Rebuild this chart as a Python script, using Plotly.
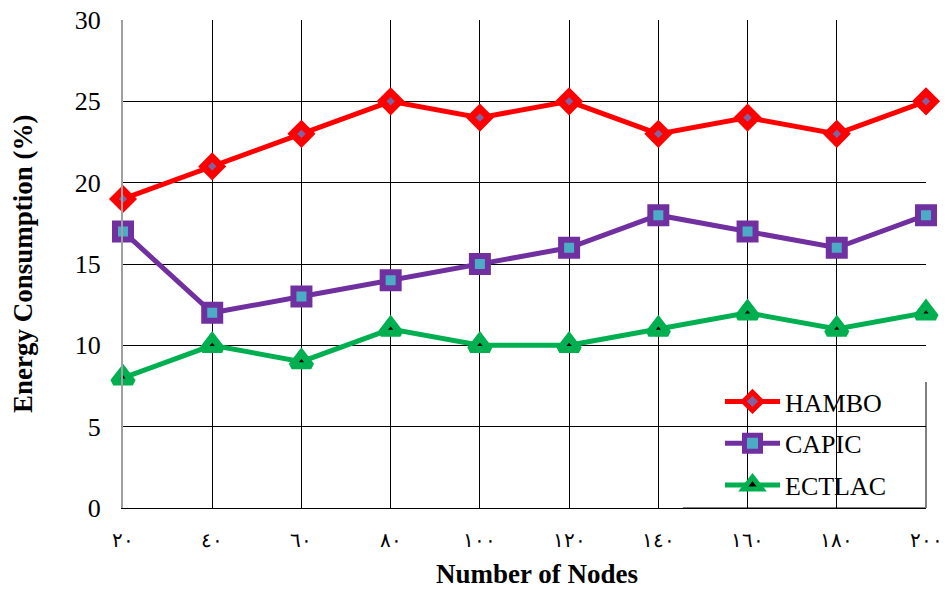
import plotly.graph_objects as go

nodes = [20, 40, 60, 80, 100, 120, 140, 160, 180, 200]
tick_labels = ["٢٠", "٤٠", "٦٠", "٨٠", "١٠٠", "١٢٠", "١٤٠", "١٦٠", "١٨٠", "٢٠٠"]
hambo = [19, 21, 23, 25, 24, 25, 23, 24, 23, 25]
capic = [17, 12, 13, 14, 15, 16, 18, 17, 16, 18]
ectlac = [8, 10, 9, 11, 10, 10, 11, 12, 11, 12]

W, H = 947, 590
L, R, T, B = 123, 21, 20, 82
PW, PH = W - L - R, H - T - B

fig = go.Figure()
fig.add_trace(go.Scatter(
    x=nodes, y=hambo, name="HAMBO", mode="lines+markers", legendgroup="a",
    line=dict(color="#FF0000", width=5),
    marker=dict(symbol="diamond", size=14, color="#8064A2",
                line=dict(color="#FF0000", width=7)),
    cliponaxis=False))
fig.add_trace(go.Scatter(
    x=nodes, y=capic, name="CAPIC", mode="lines+markers", legendgroup="b",
    line=dict(color="#7030A0", width=5),
    marker=dict(symbol="square", size=16, color="#4BACC6",
                line=dict(color="#7030A0", width=6)),
    cliponaxis=False))
fig.add_trace(go.Scatter(
    x=nodes, y=ectlac, name="ECTLAC", mode="lines+markers", legendgroup="c",
    line=dict(color="#00B050", width=5),
    marker=dict(symbol="triangle-up", size=17, color="#000000",
                line=dict(color="#00B050", width=7)),
    cliponaxis=False))

# legend background box (covers gridlines, below traces) with a grey shadow edge
leg_top = (H - B - 382) / PH
leg_left = (683 - L) / PW
fig.add_shape(type="rect", xref="paper", yref="paper",
              x0=leg_left, x1=1, y0=0, y1=leg_top,
              fillcolor="white", line=dict(width=0), layer="between")
fig.add_shape(type="line", xref="paper", yref="paper",
              x0=1, x1=1, y0=0, y1=leg_top,
              line=dict(color="#7F7F7F", width=2), layer="between")
fig.add_shape(type="line", xref="paper", yref="paper",
              x0=leg_left, x1=1, y0=0, y1=0,
              line=dict(color="#7F7F7F", width=2), layer="between")

fig.add_annotation(text="<b>Number of Nodes</b>", xref="paper", yref="paper",
                   x=(537 - L) / PW, y=-(574 - (H - B)) / PH,
                   xanchor="center", yanchor="middle", showarrow=False,
                   font=dict(family="Liberation Serif", size=27))
fig.add_annotation(text="<b>Energy Consumption (%)</b>", xref="paper", yref="paper",
                   x=-(L - 23) / PW, y=0.5, textangle=-90,
                   xanchor="center", yanchor="middle", showarrow=False,
                   font=dict(family="Liberation Serif", size=27))

fig.update_layout(
    width=W, height=H,
    margin=dict(l=L, r=R, t=T, b=B),
    paper_bgcolor="white", plot_bgcolor="white",
    font=dict(family="Liberation Serif", size=24, color="black"),
    showlegend=True,
    legend=dict(x=(720 - L) / PW, y=(H - B - 378) / PH,
                xanchor="left", yanchor="top",
                bgcolor="rgba(0,0,0,0)", borderwidth=0,
                font=dict(family="Liberation Serif", size=26),
                itemwidth=55, tracegroupgap=5, traceorder="grouped"),
    xaxis=dict(
        range=[20, 200], tickvals=nodes, ticktext=tick_labels,
        showgrid=True, gridcolor="black", gridwidth=1,
        zeroline=False, showline=True, linecolor="black", linewidth=1,
        mirror=False, ticks="", ticklabelstandoff=14, automargin=False,
        tickfont=dict(family="Liberation Serif", size=20),
    ),
    yaxis=dict(
        range=[0, 30], tickvals=[0, 5, 10, 15, 20, 25, 30],
        showgrid=True, gridcolor="black", gridwidth=1,
        zeroline=False, showline=True, linecolor="#A0A0A0", linewidth=2,
        ticks="", ticklabelstandoff=15, automargin=False,
        tickfont=dict(family="Liberation Serif", size=26),
    ),
)

fig.write_html("out.html", config={"displayModeBar": False},
               post_script="document.body.style.margin='0';")
